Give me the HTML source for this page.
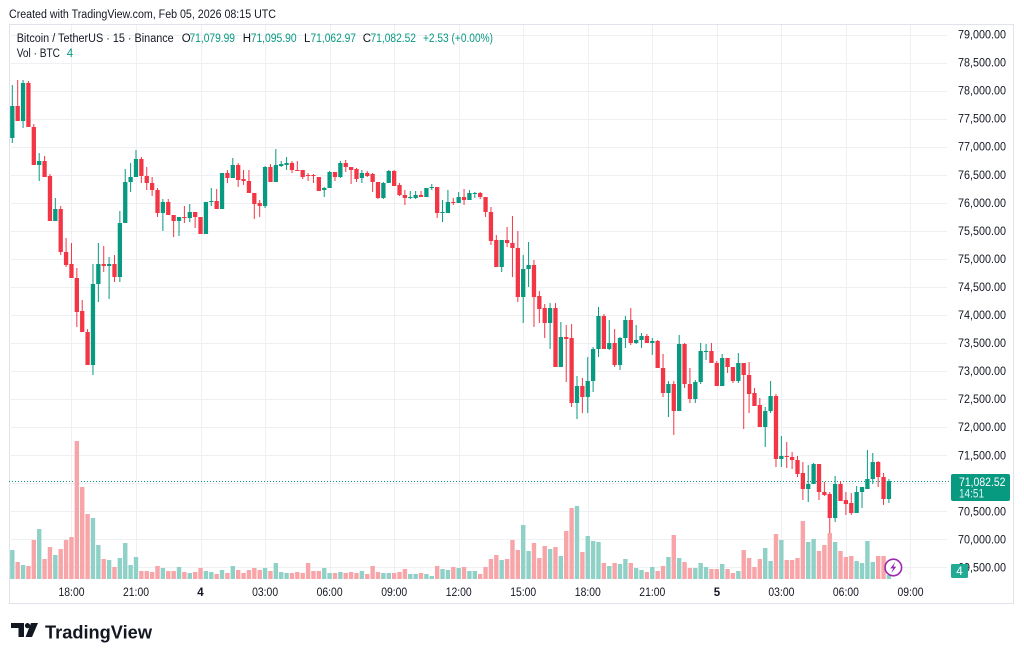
<!DOCTYPE html>
<html><head><meta charset="utf-8"><style>
html,body{margin:0;padding:0;background:#fff;}
svg{display:block;font-family:"Liberation Sans",sans-serif;}
</style></head><body>
<svg id="s" width="1024" height="658" viewBox="0 0 1024 658" xmlns="http://www.w3.org/2000/svg">
<rect x="0" y="0" width="1024" height="658" fill="#fff"/>
<text x="9" y="18" font-size="11.5" fill="#131722" textLength="267" lengthAdjust="spacingAndGlyphs">Created with TradingView.com, Feb 05, 2026 08:15 UTC</text>
<rect x="9.5" y="24.5" width="1004" height="579" fill="none" stroke="#e0e3eb"/>
<g id="grid" stroke="#eef0f3" stroke-width="1"></g>
<line x1="9" y1="481.5" x2="950" y2="481.5" stroke="#089981" stroke-width="1" stroke-dasharray="1 2"/>
<g id="vol"></g>
<g id="cdl"></g>
<g font-size="11.5">
<text x="16.7" y="42" fill="#131722" textLength="157" lengthAdjust="spacingAndGlyphs">Bitcoin / TetherUS · 15 · Binance</text>
<text x="181.7" y="42" fill="#131722">O</text><text x="189.5" y="42" fill="#089981" textLength="45.5" lengthAdjust="spacingAndGlyphs">71,079.99</text>
<text x="242.7" y="42" fill="#131722">H</text><text x="250.7" y="42" fill="#089981" textLength="46" lengthAdjust="spacingAndGlyphs">71,095.90</text>
<text x="304" y="42" fill="#131722">L</text><text x="310.5" y="42" fill="#089981" textLength="45.5" lengthAdjust="spacingAndGlyphs">71,062.97</text>
<text x="362.7" y="42" fill="#131722">C</text><text x="370.5" y="42" fill="#089981" textLength="45.5" lengthAdjust="spacingAndGlyphs">71,082.52</text>
<text x="423" y="42" fill="#089981" textLength="70" lengthAdjust="spacingAndGlyphs">+2.53 (+0.00%)</text>
<text x="16.7" y="57" fill="#131722" textLength="43.3" lengthAdjust="spacingAndGlyphs">Vol · BTC</text>
<text x="66.7" y="57" fill="#089981">4</text>
</g>
<g id="pax" font-size="11.5" fill="#131722" text-anchor="end"></g>
<g id="tax" font-size="11.5" fill="#131722" text-anchor="middle"></g>
<rect x="951" y="474" width="59" height="27" rx="2" fill="#089981"/>
<text x="959" y="486" font-size="12" fill="#fff" textLength="46.5" lengthAdjust="spacingAndGlyphs">71,082.52</text>
<text x="959" y="497.5" font-size="11.5" fill="#e6f5f2" textLength="25" lengthAdjust="spacingAndGlyphs">14:51</text>
<rect x="951" y="564" width="17" height="14" rx="1.5" fill="#22ab94"/>
<text x="959.5" y="575" font-size="11.5" fill="#fff" text-anchor="middle">4</text>
<circle cx="893.3" cy="567.5" r="8.3" fill="#fff" stroke="#9c27b0" stroke-width="1.6"/>
<path d="M895.2 562 L890.3 568.4 L893.2 568.4 L891.4 573 L896.3 566.6 L893.4 566.6 Z" fill="#9c27b0"/>
<g fill="#131722">
<path d="M11 623 H24 V637 H18.5 V628 H11 Z"/>
<circle cx="27.5" cy="625.6" r="2.6"/>
<path d="M31 623 H38 L32 637 H25.5 Z"/>
</g>
<text x="45" y="638.5" font-size="18.5" font-weight="bold" fill="#131722" textLength="107" lengthAdjust="spacingAndGlyphs">TradingView</text>
</svg>
<script>
(function(){
var NS="http://www.w3.org/2000/svg";
function el(t,a,p){var e=document.createElementNS(NS,t);for(var k in a)e.setAttribute(k,a[k]);p.appendChild(e);return e;}
var grid=document.getElementById('grid'),pax=document.getElementById('pax'),tax=document.getElementById('tax');
for(var k=0;k<=19;k++){var y=34.5+k*28.05;var yy=Math.round(y)+0.5;
 el('line',{x1:9,y1:yy,x2:947,y2:yy},grid);
 var p=79000-k*500;
 if(p===71000)continue;
 var s=p.toString().replace(/\B(?=(\d{3})+(?!\d))/g,",")+".00";
 var t=el('text',{x:1006,y:(y+4).toFixed(1),textLength:48,lengthAdjust:'spacingAndGlyphs'},pax);t.textContent=s;}
var tl=["18:00","21:00","4","03:00","06:00","09:00","12:00","15:00","18:00","21:00","5","03:00","06:00","09:00"];
for(var k=0;k<tl.length;k++){var x=71.46+k*64.54;var xx=Math.round(x)+0.5;
 el('line',{x1:xx,y1:25,x2:xx,y2:580},grid);
 var a={x:x.toFixed(1),y:596};
 if(tl[k].length>1){a.textLength=26;a.lengthAdjust='spacingAndGlyphs';}else{a['font-weight']='bold';}
 var t=el('text',a,tax);t.textContent=tl[k];}
var C="g 106 138 85 143|r 106 121 80 121|g 83 121 80 128|r 83 127 81 127|r 127 165 124 165|g 161 165 153 181|r 161 177 156 177|r 176 221 174 221|g 209 221 198 221|r 209 252 206 255|r 252 265 238 267|r 264 278 243 278|r 278 312 268 327|r 311 332 300 332|r 332 365 329 365|g 284 365 264 375|g 264 284 243 302|r 264 266 246 272|g 264 266 257 299|r 264 277 255 282|g 223 277 211 282|g 182 223 169 223|g 177 182 163 192|g 159 177 150 177|r 159 176 157 183|r 176 183 167 190|r 183 190 177 196|r 190 213 188 217|g 202 213 199 231|r 202 215 199 215|r 215 221 215 237|g 217 221 217 236|r 217 218 206 223|g 212 218 204 222|r 212 217 212 228|r 217 234 217 234|g 202 234 202 234|g 201 202 188 206|r 201 209 189 209|g 173 209 173 209|r 173 178 170 183|g 165 178 158 178|r 165 180 163 187|r 179 181 170 185|r 181 193 170 193|r 193 204 193 219|r 203 206 200 217|g 167 206 166 208|r 167 182 164 182|g 165 182 149 182|g 164 166 161 167|g 163 165 157 170|r 163 170 161 173|r 170 171 161 171|r 170 177 170 179|r 175 176 173 181|r 175 176 174 183|r 177 191 177 191|g 188 190 187 197|g 172 188 171 188|r 172 177 172 181|g 163 177 161 178|r 163 167 160 172|r 167 170 167 184|r 169 179 168 182|g 173 178 170 183|r 173 176 171 177|r 174 182 173 192|r 182 198 182 199|g 183 198 182 199|g 171 183 170 183|r 171 186 170 186|r 185 195 183 196|r 195 198 190 205|g 197 198 191 199|g 195 198 191 199|r 195 197 191 197|g 188 197 188 197|g 187 188 184 190|r 187 213 187 218|g 212 213 200 222|g 202 213 190 213|r 202 203 198 205|g 197 203 192 203|r 197 200 189 205|g 193 200 190 200|g 193 194 192 198|r 193 197 192 199|r 197 212 197 217|r 212 241 207 245|r 240 267 235 267|g 240 267 240 272|r 240 243 227 247|r 243 248 216 277|r 248 297 231 302|g 269 297 255 323|g 265 269 242 287|r 265 297 260 327|r 296 309 291 323|r 308 323 304 338|g 308 323 303 349|r 308 367 303 367|g 337 367 322 367|r 337 339 325 382|r 338 403 324 407|g 386 403 376 419|r 386 397 378 413|g 381 397 357 413|g 349 381 347 392|g 316 349 307 357|r 316 349 314 349|g 343 349 320 350|r 343 365 329 367|g 338 365 337 370|g 320 338 316 348|r 320 343 308 345|g 340 343 325 344|g 336 340 333 348|r 336 343 334 343|g 341 343 338 355|r 341 368 340 368|r 368 393 354 397|g 384 393 381 417|r 384 411 381 435|g 344 411 335 411|r 344 384 343 388|r 384 399 368 403|g 382 399 380 403|g 351 382 343 384|g 351 352 344 360|r 351 363 343 363|r 363 386 361 386|g 358 386 354 386|r 358 367 358 373|r 367 381 367 383|g 363 381 353 383|r 363 375 363 429|r 375 394 362 413|r 393 406 388 406|r 405 427 398 427|g 411 427 407 447|g 396 411 381 413|r 396 459 394 467|g 456 459 436 467|r 456 457 442 468|r 457 460 452 469|r 460 474 456 477|r 473 489 462 500|g 484 489 465 502|g 464 484 463 484|r 464 492 464 500|r 492 495 482 496|r 494 518 492 533|g 484 518 476 522|r 484 501 481 501|r 500 504 492 515|r 503 513 493 515|g 492 513 486 513|g 487 492 487 508|g 479 489 450 489|g 462 479 453 484|r 462 477 461 487|r 477 499 473 505|g 481 499 479 503";
var V=[550,562,565,566,540,529,559,547,555,549,540,537,441,487,514,518,545,559,560,567,558,543,565,557,571,571,572,566,568,571,571,567,572,573,572,568,571,572,574,570,573,566,570,573,570,568,570,568,571,563,572,573,573,572,573,563,571,571,568,573,573,572,573,572,573,571,574,566,572,573,573,573,572,569,574,574,573,574,576,566,569,570,567,568,567,571,571,574,567,559,555,560,559,540,550,525,551,543,558,546,549,547,556,531,508,506,552,536,541,542,563,566,563,564,559,563,568,570,572,567,571,566,557,535,558,562,568,568,563,567,569,569,564,569,573,571,550,558,567,559,548,561,534,540,560,560,558,521,542,539,551,545,533,542,551,557,556,561,563,541,562,556,556,575];
var cg=document.getElementById('cdl'),vg=document.getElementById('vol');
var rows=C.split('|');
for(var i=0;i<rows.length;i++){
 var f=rows[i].split(' ');var col=f[0]==='g'?'#089981':'#F23645';
 var bt=+f[1],bb=+f[2],wt=+f[3],wb=+f[4];
 var x=12.3+i*5.378;
 var vt=V[i];
 el('rect',{x:(x-2.2).toFixed(2),y:vt,width:4.4,height:579-vt,fill:f[0]==='g'?'#8fd1c6':'#f7a5a8'},vg);
 el('rect',{x:(x-0.5).toFixed(2),y:wt,width:1,height:Math.max(1,wb-wt),fill:col},cg);
 el('rect',{x:(x-2.15).toFixed(2),y:bt,width:4.3,height:Math.max(1,bb-bt),fill:col},cg);
}
})();
</script>
</body></html>
